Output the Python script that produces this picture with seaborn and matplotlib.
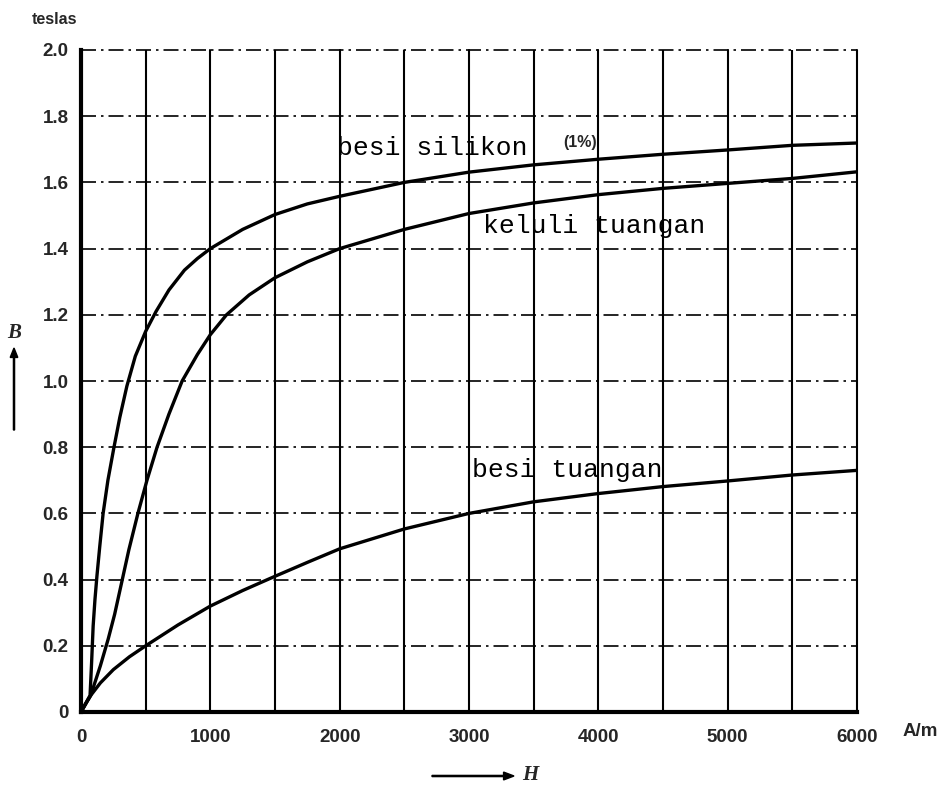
import matplotlib
matplotlib.use("Agg")
import matplotlib.pyplot as plt
import seaborn as sns
import pandas as pd
from matplotlib.ticker import MultipleLocator, FixedLocator

# ---- data ----
silikon_H = [0, 70, 82, 94, 108, 123, 145, 171, 208, 255, 300, 355, 420, 500, 580,
             680, 800, 900, 1000, 1250, 1500, 1750, 2000, 2500, 3000, 3500, 4000,
             4500, 5000, 5500, 6000]
silikon_B = [0, 0.05, 0.15, 0.26, 0.34, 0.41, 0.50, 0.60, 0.70, 0.80, 0.89, 0.985, 1.075,
             1.15, 1.21, 1.275, 1.335, 1.37, 1.40, 1.458, 1.503, 1.535, 1.558, 1.60,
             1.631, 1.653, 1.67, 1.685, 1.698, 1.712, 1.719]

keluli_H = [0, 75, 150, 210, 260, 308, 370, 440, 510, 588, 680, 782, 900, 1000, 1125,
            1300, 1500, 1750, 2000, 2500, 3000, 3500, 4000, 4500, 5000, 5500, 6000]
keluli_B = [0, 0.05, 0.14, 0.22, 0.295, 0.38, 0.49, 0.60, 0.70, 0.80, 0.90, 1.00, 1.08,
            1.14, 1.20, 1.26, 1.312, 1.36, 1.40, 1.458, 1.506, 1.538, 1.563, 1.582,
            1.597, 1.612, 1.632]

besi_H = [0, 40, 75, 150, 250, 375, 500, 750, 1000, 1250, 1500, 1750, 2000, 2500,
          3000, 3500, 4000, 4500, 5000, 5500, 6000]
besi_B = [0, 0.028, 0.05, 0.088, 0.128, 0.167, 0.20, 0.263, 0.32, 0.367, 0.41, 0.452,
          0.493, 0.553, 0.60, 0.635, 0.66, 0.681, 0.698, 0.716, 0.73]

x_ticks = [0, 1000, 2000, 3000, 4000, 5000, 6000]
x_labels = ["0", "1000", "2000", "3000", "4000", "5000", "6000"]
y_ticks = [0, 0.2, 0.4, 0.6, 0.8, 1.0, 1.2, 1.4, 1.6, 1.8, 2.0]
y_labels = ["0", "0.2", "0.4", "0.6", "0.8", "1.0", "1.2", "1.4", "1.6", "1.8", "2.0"]

curve_names = ["besi silikon", "keluli tuangan", "besi tuangan"]

df = pd.concat([
    pd.DataFrame({"H": silikon_H, "B": silikon_B, "bahan": curve_names[0]}),
    pd.DataFrame({"H": keluli_H, "B": keluli_B, "bahan": curve_names[1]}),
    pd.DataFrame({"H": besi_H, "B": besi_B, "bahan": curve_names[2]}),
], ignore_index=True)

# ---- plotting ----
sns.set_style("white")
plt.rcParams["font.family"] = ["Liberation Sans", "DejaVu Sans"]

fig = plt.figure(figsize=(9.48, 7.88), dpi=100)
ax = fig.add_axes([81 / 948, 1 - 712 / 788, (857 - 81) / 948, (712 - 50) / 788])

sns.lineplot(data=df, x="H", y="B", hue="bahan", palette=["black"] * 3,
             sort=False, estimator=None, legend=False, linewidth=2.4, ax=ax, zorder=5)
for ln in ax.get_lines():
    ln.set_solid_joinstyle("round")
    ln.set_solid_capstyle("round")

ax.set_xlim(0, 6000)
ax.set_ylim(0, 2.0)
ax.xaxis.set_major_locator(FixedLocator(x_ticks))
ax.xaxis.set_minor_locator(MultipleLocator(500))
ax.set_xticks(x_ticks)
ax.set_xticklabels(x_labels)
ax.set_yticks(y_ticks)
ax.set_yticklabels(y_labels)
ax.set_xlabel("")
ax.set_ylabel("")

ax.grid(False)
ax.grid(which="both", axis="x", color="black", linewidth=1.5, linestyle="-")
ax.grid(which="major", axis="y", color="black", linewidth=1.2,
        linestyle=(0, (9, 3, 1.5, 3)))
for gl in ax.get_xgridlines() + ax.get_ygridlines():
    gl.set_clip_on(False)

for side in ["top", "right"]:
    ax.spines[side].set_visible(False)
for side in ["left", "bottom"]:
    ax.spines[side].set_linewidth(3.0)
    ax.spines[side].set_color("black")
    ax.spines[side].set_zorder(6)

ax.tick_params(axis="both", which="both", length=0)
ax.tick_params(axis="y", pad=9)
ax.tick_params(axis="x", pad=12)
for lab in ax.get_xticklabels() + ax.get_yticklabels():
    lab.set_fontweight("bold")
    lab.set_fontsize(13.5)
    lab.set_fontfamily("Liberation Sans")

# curve labels
mono = dict(family="Liberation Mono", fontsize=19, color="black", va="center",
            ha="left", zorder=7)
ax.text(1980, 1.703, "besi silikon", **mono)
ax.text(3728, 1.72, "(1%)", family="Liberation Sans", fontweight="bold",
        fontsize=11.5, va="center", ha="left", zorder=7)
ax.text(3109, 1.467, "keluli tuangan", **mono)
ax.text(3024, 0.732, "besi tuangan", **mono)

# figure-level annotations
fig.text(32 / 948, 1 - 19 / 788, "teslas", fontsize=11.5, fontweight="bold",
         ha="left", va="center", family="Liberation Sans")
fig.text(903 / 948, 1 - 732 / 788, "A/m", fontsize=13.5, fontweight="bold",
         ha="left", va="center", family="Liberation Sans")
fig.text(14 / 948, 1 - 333 / 788, "B", fontsize=15, fontstyle="italic",
         fontweight="bold", ha="center", va="center", family="Liberation Serif")
fig.text(530 / 948, 1 - 775 / 788, "H", fontsize=15, fontstyle="italic",
         fontweight="bold", ha="center", va="center", family="Liberation Serif")

fig.patches.append(matplotlib.patches.FancyArrow(
    14 / 948, 1 - 430 / 788, 0, (430 - 348) / 788, width=0.0012,
    head_width=0.008, head_length=0.012, length_includes_head=True,
    color="black", transform=fig.transFigure, figure=fig))
fig.patches.append(matplotlib.patches.FancyArrow(
    432 / 948, 1 - 776 / 788, (514 - 432) / 948, 0, width=0.0015,
    head_width=0.010, head_length=0.011, length_includes_head=True,
    color="black", transform=fig.transFigure, figure=fig))

fig.savefig("out.png", dpi=100, facecolor="white")
